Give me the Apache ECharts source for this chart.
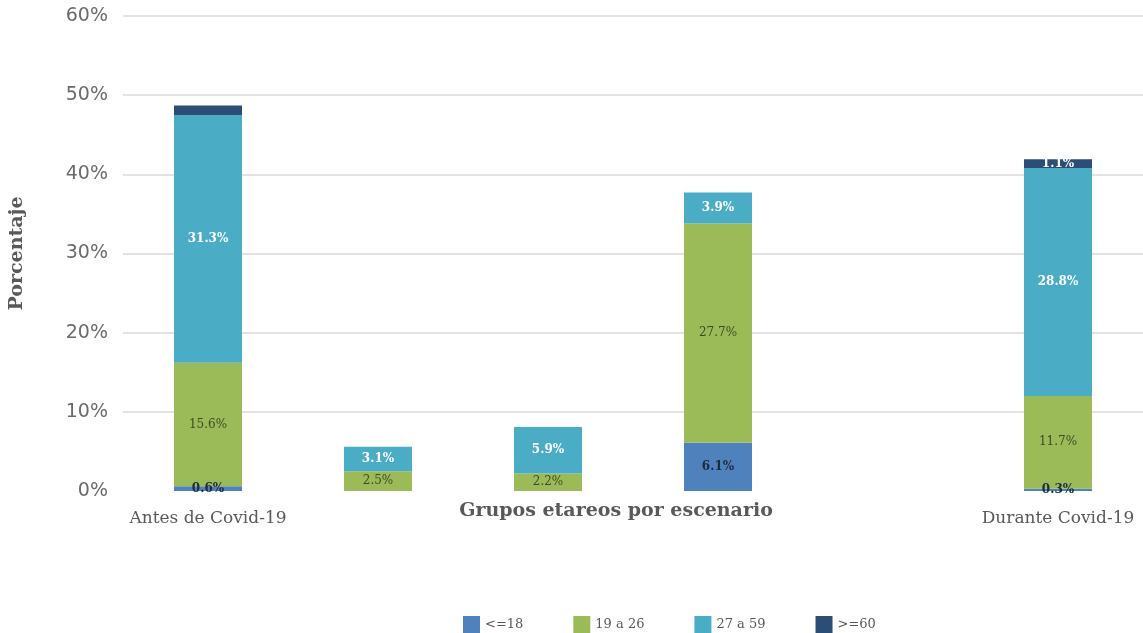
<!DOCTYPE html>
<html>
<head>
<meta charset="utf-8">
<script src="https://cdn.jsdelivr.net/npm/echarts@6/dist/echarts.min.js"></script>
<style>
  html, body { margin: 0; padding: 0; background: #fff; }
  #chart { width: 1143px; height: 633px; }
</style>
</head>
<body>
<div id="chart"></div>
<script>
// Age groups by scenario (percent of total)
const categories = ['Antes de Covid-19', '', '', '', '', 'Durante Covid-19'];
const groupNames = ['<=18', '19 a 26', '27 a 59', '>=60'];
const hasta18   = [0.6, null, null, 6.1, null, 0.3];
const de19a26   = [15.6, 2.5, 2.2, 27.7, null, 11.7];
const de27a59   = [31.3, 3.1, 5.9, 3.9, null, 28.8];
const mayor60   = [1.2, null, null, null, null, 1.1];
const hiddenLabels60 = [0]; // thin top segment left unlabeled
const yTicks = [0, 10, 20, 30, 40, 50, 60];

const colors = ['#4F81BD', '#9BBB59', '#4BACC6', '#2C4D75'];
const serif = '"DejaVu Serif", "Liberation Serif", serif';

function seriesOf(name, values, color, labelColor, bold, hidden) {
  return {
    name: name,
    type: 'bar',
    stack: 'total',
    barWidth: 68,
    data: values.map((v, i) => (v == null ? null : {
      value: v,
      label: { show: !(hidden && hidden.includes(i)) }
    })),
    itemStyle: { color: color },
    label: {
      show: true,
      position: 'inside',
      formatter: p => p.value.toFixed(1) + '%',
      color: labelColor,
      fontFamily: serif,
      fontSize: 12,
      fontWeight: bold ? 'bold' : 'normal'
    }
  };
}

const chart = echarts.init(document.getElementById('chart'));
chart.setOption({
  animation: false,
  color: colors,
  grid: { left: 123, right: 0, top: 16, bottom: 142 },
  legend: {
    left: 458,
    top: 611,
    itemWidth: 17,
    itemHeight: 17,
    itemGap: 50,
    icon: 'rect',
    textStyle: { fontFamily: serif, fontSize: 13, color: '#595959' },
    data: groupNames
  },
  xAxis: {
    type: 'category',
    data: categories,
    axisLine: { show: false },
    axisTick: { show: false },
    axisLabel: {
      margin: 19,
      interval: 0,
      fontFamily: serif,
      fontSize: 17,
      color: '#595959'
    }
  },
  yAxis: {
    type: 'value',
    min: yTicks[0],
    max: yTicks[yTicks.length - 1],
    interval: 10,
    name: 'Porcentaje',
    nameLocation: 'middle',
    nameGap: 96,
    nameTextStyle: { fontFamily: serif, fontSize: 19, fontWeight: 'bold', color: '#595959' },
    axisLine: { show: false },
    axisTick: { show: false },
    axisLabel: {
      margin: 15,
      formatter: v => v + '%',
      fontFamily: '"DejaVu Sans", sans-serif',
      fontSize: 19,
      color: '#6b6b6b'
    },
    splitLine: {
      lineStyle: {
        width: 2,
        color: ['rgba(0,0,0,0)', '#e3e3e3', '#e3e3e3', '#e3e3e3', '#e3e3e3', '#e3e3e3', '#e3e3e3']
      }
    }
  },
  graphic: [{
    type: 'text',
    x: 616,
    y: 511,
    style: {
      text: 'Grupos etareos por escenario',
      font: 'bold 19px ' + serif,
      fill: '#595959',
      align: 'center',
      verticalAlign: 'middle'
    }
  }],
  series: [
    seriesOf(groupNames[0], hasta18, colors[0], '#1f2a3a', true),
    seriesOf(groupNames[1], de19a26, colors[1], '#3d4a25', false),
    seriesOf(groupNames[2], de27a59, colors[2], '#ffffff', true),
    seriesOf(groupNames[3], mayor60, colors[3], '#ffffff', true, hiddenLabels60)
  ]
});
</script>
</body>
</html>
